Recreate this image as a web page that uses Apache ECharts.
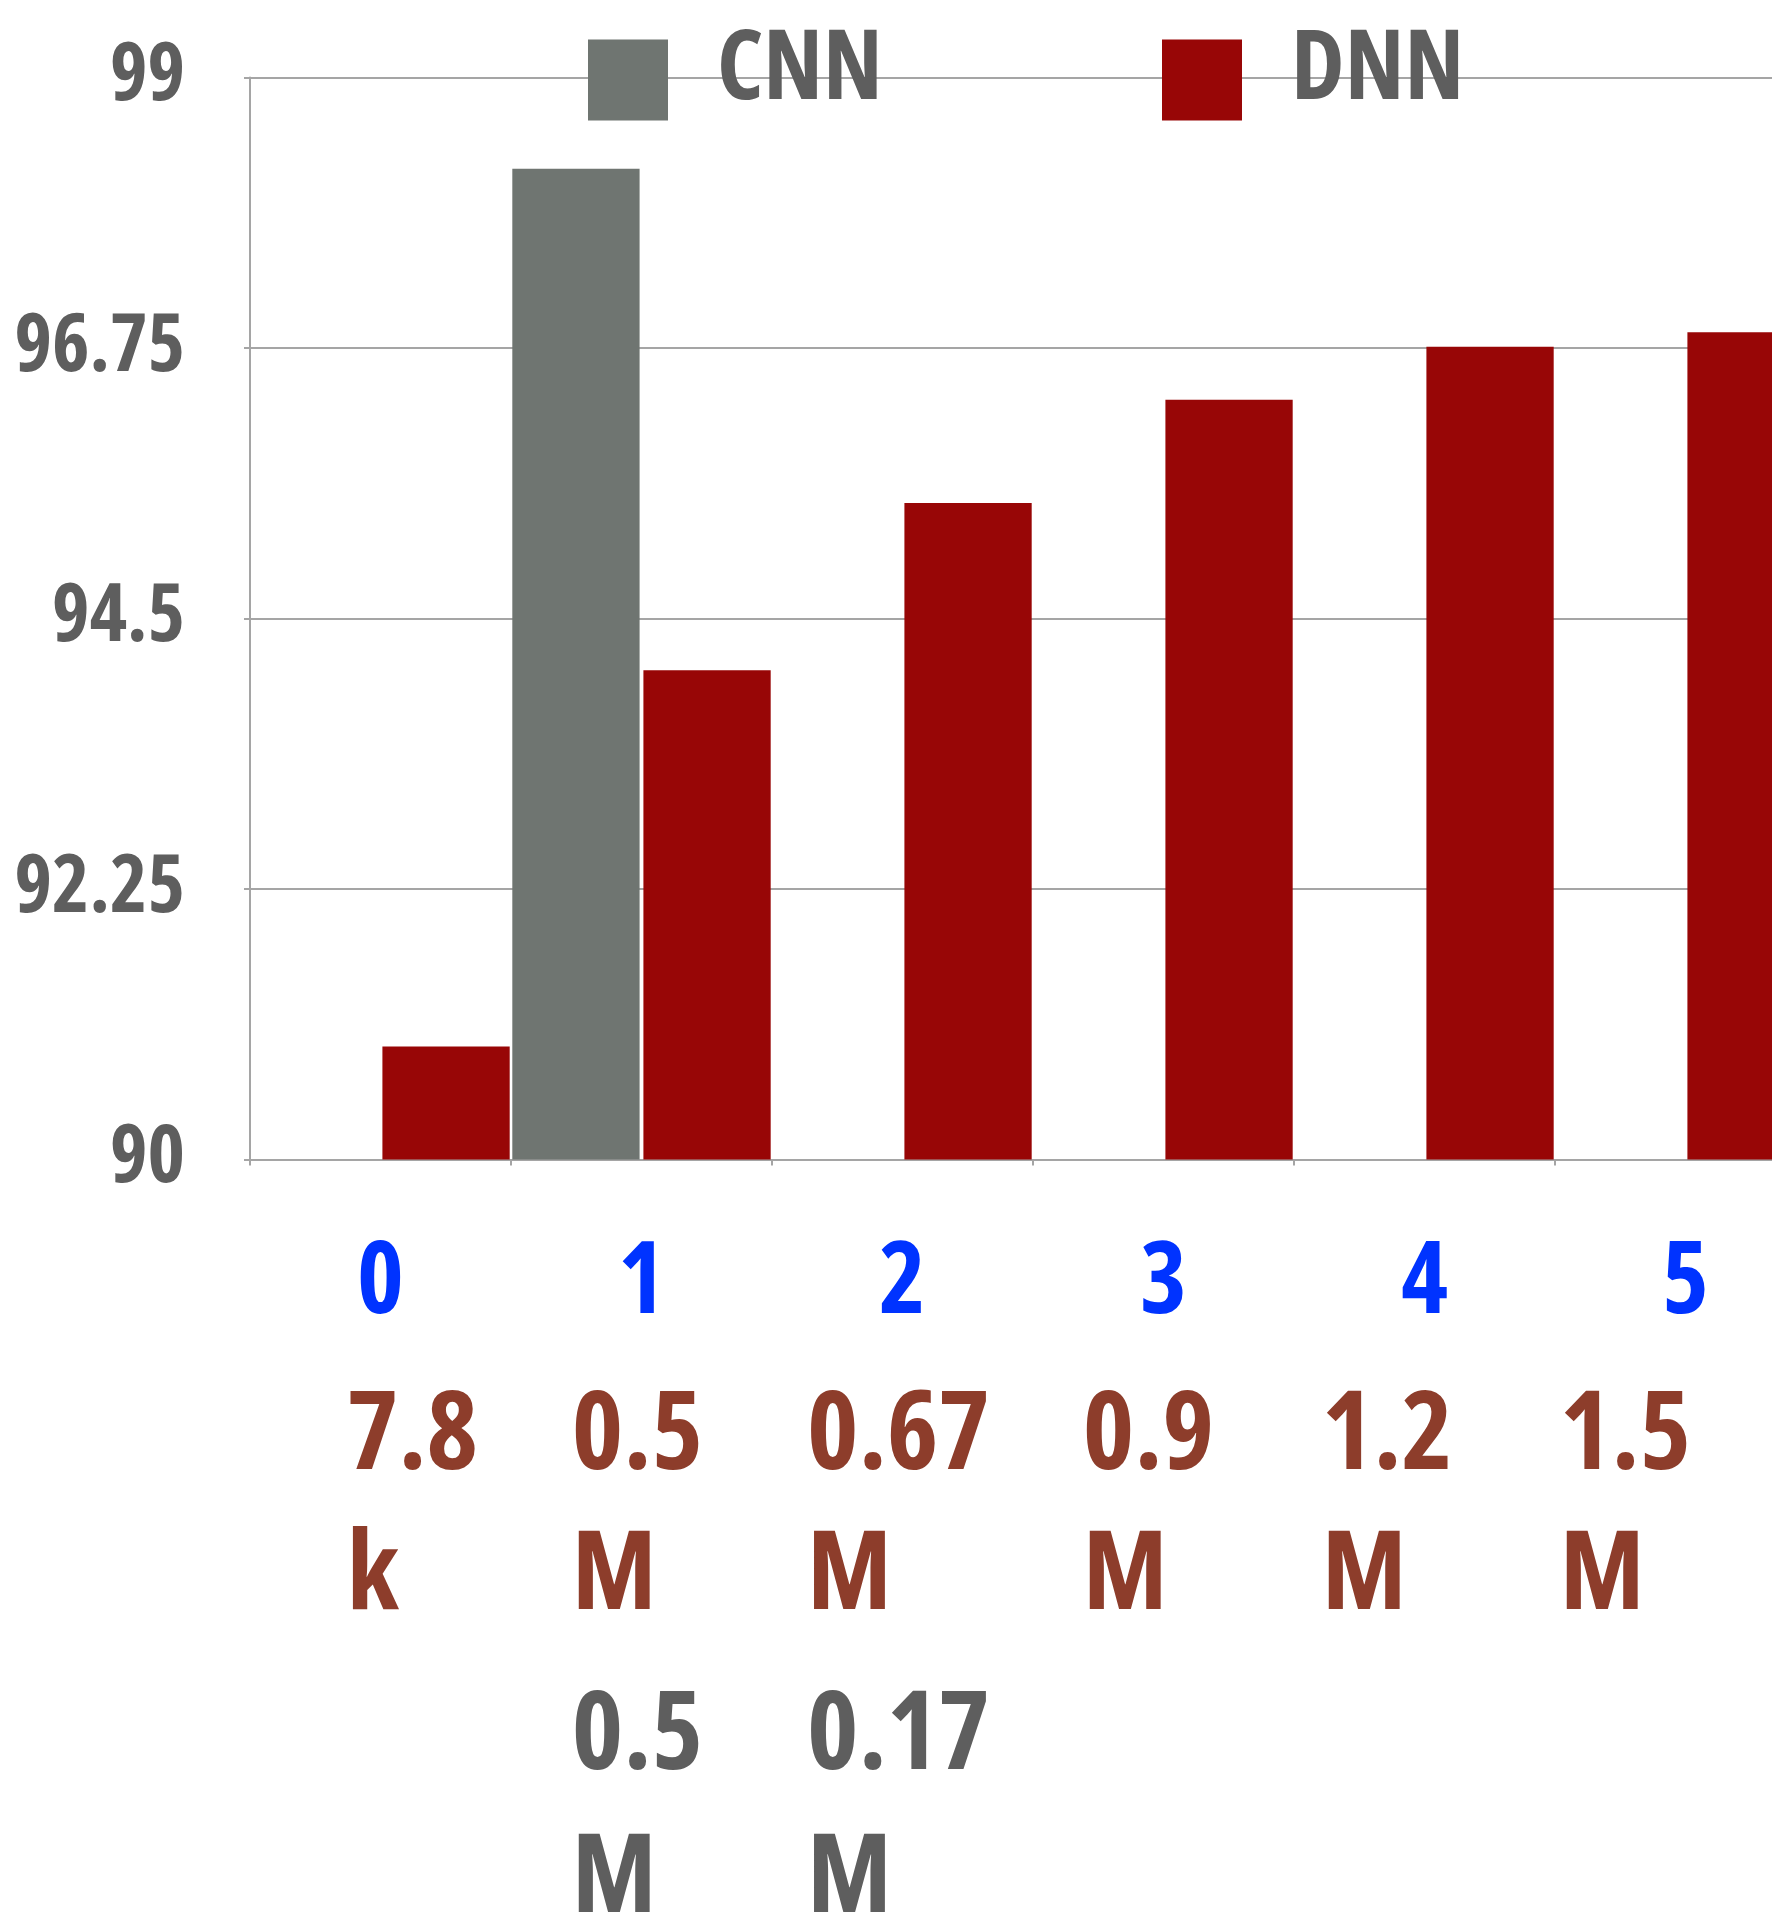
<!DOCTYPE html>
<html>
<head>
<meta charset="utf-8">
<title>CNN vs DNN</title>
<script src="https://cdn.jsdelivr.net/npm/echarts@6/dist/echarts.min.js"></script>
<style>
  html, body { margin: 0; padding: 0; background: #ffffff; }
  #chart { width: 1772px; height: 1914px; }
</style>
</head>
<body>
<div id="chart"></div>
<script>
// Model index on the x axis
const categories = ['0', '1', '2', '3', '4', '5'];

// Accuracy (%) per model
const cnnValues = [null, 98.24, null, null, null, null];
const dnnValues = [90.94, 94.07, 95.46, 96.32, 96.76, 96.88];

// Parameter counts printed under each model index
const dnnParamValue = ['7.8', '0.5', '0.67', '0.9', '1.2', '1.5'];
const dnnParamUnit  = ['k', 'M', 'M', 'M', 'M', 'M'];
const cnnParamValue = [null, '0.5', '0.17', null, null, null];
const cnnParamUnit  = [null, 'M', 'M', null, null, null];

// Y axis range and step
const yMin = 90, yMax = 99, yStep = 2.25;

// Horizontal shift (px) of the parameter-count text under each index
const paramShift = [32, -4, -4, -15, -37, -60];

// Condensed bold face (Open Sans width axis)
const FONT = "'Open Sans', 'Roboto', sans-serif";
const WEIGHT = 'bold condensed';
const GREY_TEXT = '#5e5e5e';
const BLUE_TEXT = '#0033ff';
const BROWN_TEXT = '#8d3d2b';
const LINE = '#a5a5a5';

// Rich styles for the multi-line category labels
const rich = {
  idx: { color: BLUE_TEXT, fontFamily: FONT, fontWeight: WEIGHT, fontSize: 100, lineHeight: 161, align: 'center' }
};
categories.forEach(function (c, i) {
  const s = paramShift[i];
  const pad = s >= 0 ? [0, 0, 0, 2 * s] : [0, -2 * s, 0, 0];
  const base = { fontFamily: FONT, fontWeight: WEIGHT, fontSize: 110, align: 'left', padding: pad };
  rich['dv' + i] = Object.assign({}, base, { color: BROWN_TEXT, lineHeight: 144 });
  rich['du' + i] = Object.assign({}, base, { color: BROWN_TEXT, lineHeight: 136 });
  rich['cv' + i] = Object.assign({}, base, { color: GREY_TEXT, lineHeight: 185 });
  rich['cu' + i] = Object.assign({}, base, { color: GREY_TEXT, lineHeight: 100 });
});

function categoryLabel(value, index) {
  const lines = [
    '{idx|' + value + '}',
    '{dv' + index + '|' + dnnParamValue[index] + '}',
    '{du' + index + '|' + dnnParamUnit[index] + '}',
    '{cv' + index + '|' + (cnnParamValue[index] || ' ') + '}',
    '{cu' + index + '|' + (cnnParamUnit[index] || ' ') + '}'
  ];
  return lines.join('\n');
}

const chart = echarts.init(document.getElementById('chart'), null, { renderer: 'canvas' });

// Legend name sits a little above the middle of its swatch: an empty
// second line with a short line height lifts the first one.
const legendText = {
  color: GREY_TEXT, fontFamily: FONT, fontWeight: WEIGHT, fontSize: 96,
  lineHeight: 16,
  padding: [0, 0, 0, 44]
};
const legendBase = {
  top: 24, padding: 0, itemWidth: 80, itemHeight: 81, icon: 'rect',
  textStyle: legendText,
  formatter: function (name) { return name + '\n '; }
};

chart.setOption({
  animation: false,
  backgroundColor: '#ffffff',
  legend: [
    Object.assign({ data: ['CNN'], left: 588 }, legendBase),
    Object.assign({ data: ['DNN'], left: 1162 }, legendBase)
  ],
  grid: {
    left: 250, right: -44, top: 77.5, bottom: 754.6,
    containLabel: false, outerBoundsMode: 'none'
  },
  xAxis: {
    type: 'category',
    data: categories,
    boundaryGap: true,
    axisLine: { show: true, lineStyle: { color: LINE, width: 2 } },
    axisTick: { show: true, alignWithLabel: false, length: 6, lineStyle: { color: LINE, width: 2 } },
    axisLabel: {
      interval: 0,
      margin: 45,
      formatter: categoryLabel,
      rich: rich
    },
    splitLine: { show: false }
  },
  yAxis: {
    type: 'value',
    min: yMin,
    max: yMax,
    interval: yStep,
    axisLine: { show: true, lineStyle: { color: LINE, width: 2 } },
    axisTick: { show: true, length: 6, lineStyle: { color: LINE, width: 2 } },
    axisLabel: {
      margin: 65,
      color: GREY_TEXT,
      fontFamily: FONT,
      fontWeight: WEIGHT,
      fontSize: 80,
      padding: [0, 0, 31, 0]
    },
    splitLine: { show: true, lineStyle: { color: LINE, width: 2 } }
  },
  series: [
    {
      name: 'CNN',
      type: 'bar',
      data: cnnValues,
      barGap: '3%',
      barCategoryGap: '1%',
      itemStyle: { color: '#6f7571' }
    },
    {
      name: 'DNN',
      type: 'bar',
      data: dnnValues,
      barGap: '3%',
      barCategoryGap: '1%',
      itemStyle: { color: '#980606' }
    }
  ]
});
</script>
</body>
</html>
